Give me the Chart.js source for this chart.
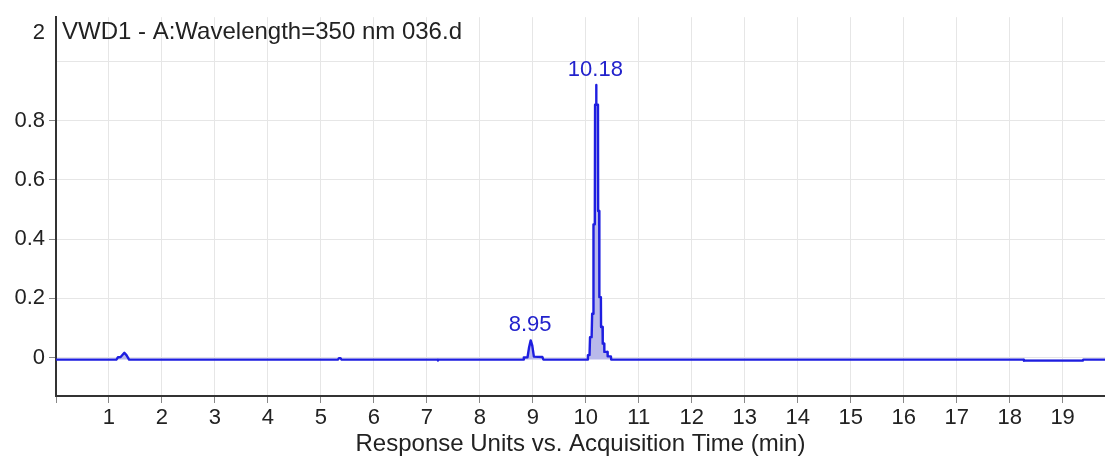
<!DOCTYPE html>
<html>
<head>
<meta charset="utf-8">
<script src="https://cdn.jsdelivr.net/npm/chart.js@4/dist/chart.umd.min.js"></script>
<style>
  html, body { margin: 0; padding: 0; background: #fff; }
  #wrap { width: 1105px; height: 457px; }
</style>
</head>
<body>
<div id="wrap"><canvas id="c" width="1105" height="457"></canvas></div>
<script>
// ---- data ----
const times = [
  0, 1.14, 1.17, 1.22, 1.29, 1.33, 1.38,
  5.32, 5.34, 5.37, 5.39,
  7.20, 7.21, 7.22,
  8.82, 8.83, 8.90, 8.93, 8.96, 8.99, 9.02, 9.18, 9.20,
  10.03, 10.04, 10.07, 10.08, 10.11, 10.12, 10.14, 10.145, 10.17, 10.175, 10.195, 10.197, 10.20,
  10.23, 10.233, 10.253, 10.256, 10.285, 10.288, 10.316, 10.32, 10.348, 10.35, 10.41, 10.413, 10.474, 10.48,
  18.26, 18.27, 19.38, 19.39, 19.8
];
const response = [
  -0.007, -0.007, 0.001, 0.002, 0.016, 0.008, -0.007,
  -0.007, -0.002, -0.002, -0.007,
  -0.007, -0.010, -0.007,
  -0.007, 0.000, 0.001, 0.035, 0.058, 0.040, 0.003, 0.002, -0.007,
  -0.007, 0.008, 0.008, 0.069, 0.069, 0.148, 0.148, 0.450, 0.450, 0.854, 0.854, 0.921, 0.854,
  0.854, 0.495, 0.495, 0.204, 0.204, 0.103, 0.103, 0.047, 0.047, 0.019, 0.019, 0.004, 0.004, -0.007,
  -0.007, -0.0105, -0.0105, -0.007, -0.007
];
const baselineLevel = -0.007;
const peakTimes = [8.95, 10.18];
const peakLabels = ['8.95', '10.18'];
const xTicks = [0,1,2,3,4,5,6,7,8,9,10,11,12,13,14,15,16,17,18,19];
const yTicks = [0, 0.2, 0.4, 0.6, 0.8, 1.0];
const yTickLabels = ['0', '0.2', '0.4', '0.6', '0.8', ''];
const signalTitle = 'VWD1 - A:Wavelength=350 nm 036.d';
const scaleExponent = '2';
const xAxisTitle = 'Response Units vs. Acquisition Time (min)';

const FONT = "'Liberation Sans', Arial, sans-serif";
const points = times.map((t, i) => ({ x: t, y: response[i] }));

function peakMax(t) {
  let best = -Infinity;
  times.forEach((tt, i) => { if (Math.abs(tt - t) < 0.12 && response[i] > best) best = response[i]; });
  return best;
}

const overlay = {
  id: 'overlay',
  afterDraw(chart) {
    const ctx = chart.ctx;
    const xs = chart.scales.x, ys = chart.scales.y;
    const area = chart.chartArea;
    ctx.save();
    ctx.fillStyle = '#222';
    ctx.font = '22px ' + FONT;
    ctx.textAlign = 'right';
    ctx.textBaseline = 'middle';
    ctx.fillText(scaleExponent, 45, 33);
    ctx.font = '24px ' + FONT;
    ctx.textAlign = 'left';
    ctx.fillText(signalTitle, area.left + 6, 32);
    ctx.fillStyle = '#2222cc';
    ctx.font = '22px ' + FONT;
    ctx.textAlign = 'center';
    peakTimes.forEach((t, i) => {
      const px = xs.getPixelForValue(t);
      const py = ys.getPixelForValue(peakMax(t));
      ctx.fillText(peakLabels[i], px, py - 15);
    });
    ctx.restore();
  }
};

new Chart(document.getElementById('c'), {
  type: 'line',
  data: {
    datasets: [{
      data: points,
      borderColor: '#1e1ee0',
      borderWidth: 2.4,
      borderJoinStyle: 'round',
      backgroundColor: '#b9b9ea',
      fill: { value: baselineLevel },
      pointRadius: 0,
      tension: 0
    }]
  },
  options: {
    responsive: false,
    animation: false,
    layout: { padding: { top: 15, right: 0, left: 0, bottom: 0 } },
    plugins: { legend: { display: false }, tooltip: { enabled: false } },
    scales: {
      x: {
        type: 'linear',
        min: 0,
        max: 19.8,
        afterBuildTicks: s => { s.ticks = xTicks.map(v => ({ value: v })); },
        afterFit: s => { s.height = 61; },
        ticks: {
          font: { size: 22, family: FONT },
          color: '#222',
          padding: 2,
          maxRotation: 0,
          autoSkip: false,
          callback: v => (v === 0 ? '' : String(v))
        },
        grid: { color: '#e6e6e6', lineWidth: 1, tickColor: '#888', tickLength: 7, drawTicks: true },
        border: { display: true, color: '#333', width: 2 },
        title: { display: true, text: xAxisTitle, font: { size: 24, family: FONT }, color: '#222', padding: { top: 0, bottom: -2 } }
      },
      y: {
        type: 'linear',
        min: -0.13,
        max: 1.15,
        afterBuildTicks: s => { s.ticks = yTicks.map(v => ({ value: v })); },
        afterFit: s => { s.width = 56; },
        ticks: {
          font: { size: 22, family: FONT },
          color: '#222',
          padding: 4,
          autoSkip: false,
          callback: (v, i) => yTickLabels[i]
        },
        grid: {
          color: '#e6e6e6', lineWidth: 1, tickLength: 7, drawTicks: true,
          tickColor: c => (yTickLabels[c.index] === '' ? 'rgba(0,0,0,0)' : '#888')
        },
        border: { display: true, color: '#333', width: 2 }
      }
    }
  },
  plugins: [overlay]
});
</script>
</body>
</html>
